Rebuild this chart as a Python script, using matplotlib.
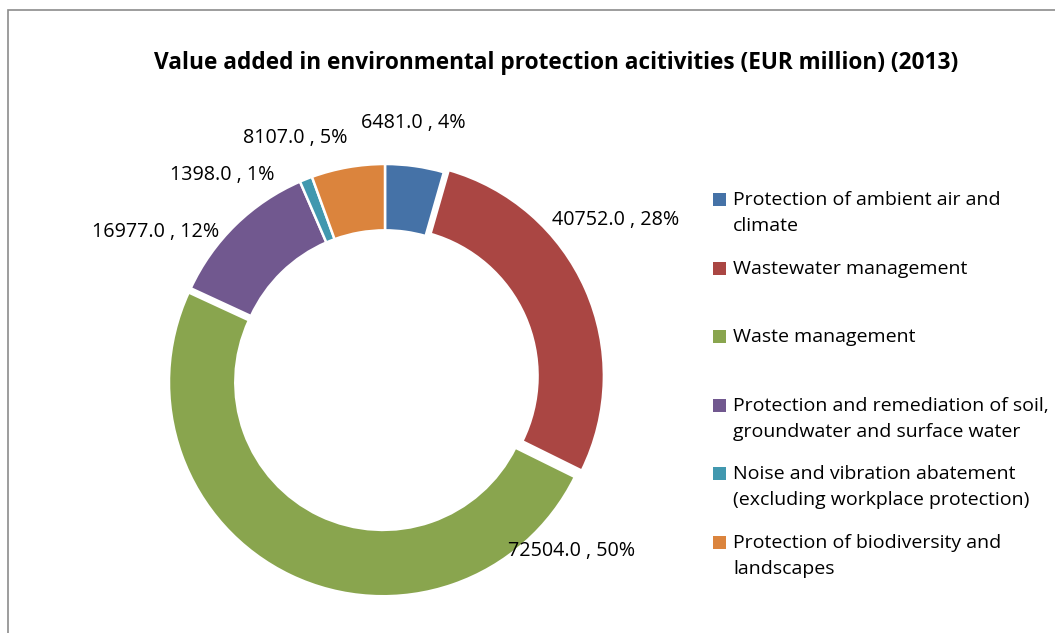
import numpy as np
import matplotlib.pyplot as plt
from matplotlib.patches import Rectangle

# Value added by domain, EUR million, 2013
categories = [
    "Protection of ambient air and\nclimate",
    "Wastewater management",
    "Waste management",
    "Protection and remediation of soil,\ngroundwater and surface water",
    "Noise and vibration abatement\n(excluding workplace protection)",
    "Protection of biodiversity and\nlandscapes",
]
values = [6481.0, 40752.0, 72504.0, 16977.0, 1398.0, 8107.0]
percent = [4, 28, 50, 12, 1, 5]
colors = ["#4572A7", "#AA4643", "#89A54E", "#71588F", "#4198AF", "#DB843D"]

# label centres (pie radius units) and legend rows (figure pixels from top)
label_pos = [(0.13, 1.19), (1.08, 0.74), (0.87, -0.81),
             (-1.07, 0.68), (-0.76, 0.95), (-0.42, 1.12)]
legend_y = [199, 268, 336, 405, 473, 542]
explode = [0.0, 0.025, 0.022, 0.0, 0.0, 0.0]

plt.rcParams['font.family'] = ['Open Sans', 'DejaVu Sans']

W, H = 1055, 633
fig = plt.figure(figsize=(W / 100, H / 100), dpi=100)

# chart frame
fig.patches.append(Rectangle((8 / W, -0.1), 1.2, 1.1 - 10 / H, transform=fig.transFigure,
                             fill=False, edgecolor="#8c8c8c", linewidth=1.2))

fig.text(556 / W, 1 - 63 / H,
         "Value added in environmental protection acitivities (EUR million) (2013)",
         ha="center", va="center", fontsize=16.3, fontweight="bold")

cx, cy, R = 385, 378, 214
side = 600
ax = fig.add_axes([(cx - side / 2) / W, (H - cy - side / 2) / H, side / W, side / H])

ax.pie(values, colors=colors, startangle=90, counterclock=False, radius=1.0,
       explode=explode,
       wedgeprops=dict(width=0.31, edgecolor="white", linewidth=1.8))

lim = side / (2 * R)
ax.set_xlim(-lim, lim)
ax.set_ylim(-lim, lim)
ax.set_aspect("equal")
ax.axis("off")

for v, p, (lx, ly) in zip(values, percent, label_pos):
    ax.text(lx, ly, f"{v:.1f} , {p}%", ha="center", va="center",
            fontsize=14.2, clip_on=False)

# legend
for lab, col, y in zip(categories, colors, legend_y):
    fig.patches.append(Rectangle((713 / W, 1 - (y + 6.5) / H), 13 / W, 13 / H,
                                 transform=fig.transFigure, facecolor=col, edgecolor="none"))
    fig.text(733 / W, 1 - (y - 8) / H, lab, ha="left", va="top",
             fontsize=14, linespacing=1.6)

fig.savefig("out.png", dpi=100)
